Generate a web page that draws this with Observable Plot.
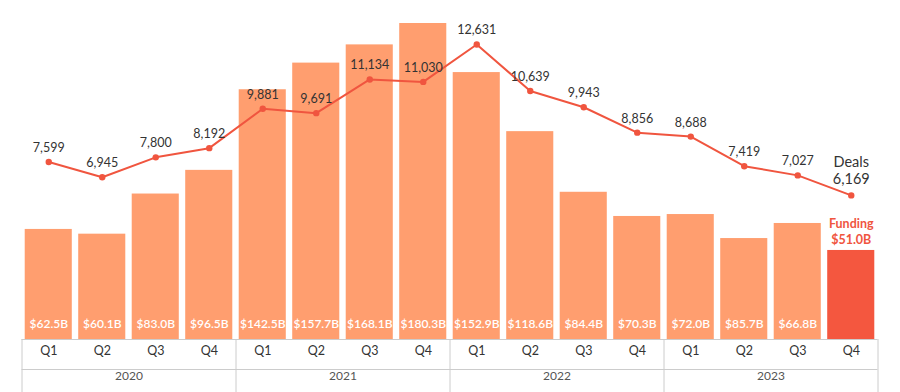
<!DOCTYPE html>
<html><head><meta charset="utf-8">
<script src="https://cdn.jsdelivr.net/npm/d3@7"></script>
<script src="https://cdn.jsdelivr.net/npm/@observablehq/plot@0.6"></script>
<style>body{margin:0;background:#fff;font-family:Lato,sans-serif}</style>
</head><body><div id="chart"></div>
<script>
const years = ["2020", "2021", "2022", "2023"];
const quarters = ["Q1", "Q2", "Q3", "Q4"];
// bar heights as drawn in the picture (Q2 2023 bar is drawn shorter than its label)
const funding = [62.8, 60.1, 83.0, 96.5, 142.5, 157.7, 168.1, 180.3, 152.3, 118.6, 84.0, 70.2, 71.3, 57.6, 66.2, 50.8];
const fundingLabels = ["$62.5B", "$60.1B", "$83.0B", "$96.5B", "$142.5B", "$157.7B", "$168.1B", "$180.3B", "$152.9B", "$118.6B", "$84.4B", "$70.3B", "$72.0B", "$85.7B", "$66.8B", "$51.0B"];
const deals = [7599, 6945, 7800, 8192, 9881, 9691, 11134, 11030, 12631, 10639, 9943, 8856, 8688, 7419, 7027, 6169];

const W = 900, H = 392, ML = 21.5, MR = 22.5, MT = 23, MB = 53;
const step = (W - ML - MR) / 16;
const fundingTop = 180.3;   // funding at top of frame
const dealsTop = 13530;     // deals at top of frame (secondary scale)
const k = fundingTop / dealsTop;

const salmon = "#FF9E6F", red = "#F4573F", lineRed = "#F0553F", grid = "#cccccc";
const fmt = d3.format(",");

const data = years.flatMap((y, i) => quarters.map((q, j) => {
  const n = i * 4 + j;
  return {key: y + " " + q, year: y, q, funding: funding[n], label: fundingLabels[n], deals: deals[n], last: n === 15};
}));
const notLast = data.filter(d => !d.last);
const lastOnly = data.filter(d => d.last);

const chart = Plot.plot({
  width: W, height: H,
  marginLeft: ML, marginRight: MR, marginTop: MT, marginBottom: MB,
  style: {fontFamily: "Lato, sans-serif", background: "#fff"},
  x: {type: "band", domain: data.map(d => d.key), paddingInner: 0.12, paddingOuter: 0.06, round: false, axis: null},
  y: {domain: [0, fundingTop], axis: null},
  marks: [
    Plot.barY(notLast, {x: "key", y: "funding", fill: salmon}),
    Plot.barY(lastOnly, {x: "key", y: "funding", fill: red}),
    Plot.text(notLast, {x: "key", y: 0, text: "label", fill: "white", fontWeight: 600, fontSize: 12, dy: -15}),
    Plot.text(lastOnly, {x: "key", y: "funding", text: d => "Funding\n" + d.label, fill: lineRed, fontWeight: 700, fontSize: 12.5, lineAnchor: "bottom", lineHeight: 1.3, dy: -6}),
    Plot.line(data, {x: "key", y: d => d.deals * k, stroke: lineRed, strokeWidth: 2}),
    Plot.dot(data, {x: "key", y: d => d.deals * k, r: 3.2, fill: lineRed}),
    Plot.text(notLast, {x: "key", y: d => d.deals * k, text: d => fmt(d.deals), fill: "#333", fontSize: 12.5, dy: -14}),
    Plot.text(lastOnly, {x: "key", y: d => d.deals * k, text: d => "Deals\n" + fmt(d.deals), fill: "#333", fontSize: 14.5, lineAnchor: "bottom", lineHeight: 1.2, dy: -11}),
    Plot.ruleY([0], {stroke: grid}),
    Plot.ruleY([0], {stroke: grid, dy: 30}),
    Plot.ruleX(data.filter(d => d.q === "Q1"), {x: "key", dx: -step / 2, stroke: grid, insetTop: H - MT - MB, insetBottom: -MB}),
    Plot.ruleX(lastOnly, {x: "key", dx: step / 2, stroke: grid, insetTop: H - MT - MB, insetBottom: -MB}),
    Plot.text(data, {x: "key", text: "q", frameAnchor: "bottom", dy: 15, fill: "#333", fontSize: 12.5}),
    Plot.text(data.filter(d => d.q === "Q2"), {x: "key", text: "year", frameAnchor: "bottom", dx: step / 2, dy: 40, fill: "#555", fontSize: 12})
  ]
});
document.getElementById("chart").appendChild(chart);
</script>
</body></html>
